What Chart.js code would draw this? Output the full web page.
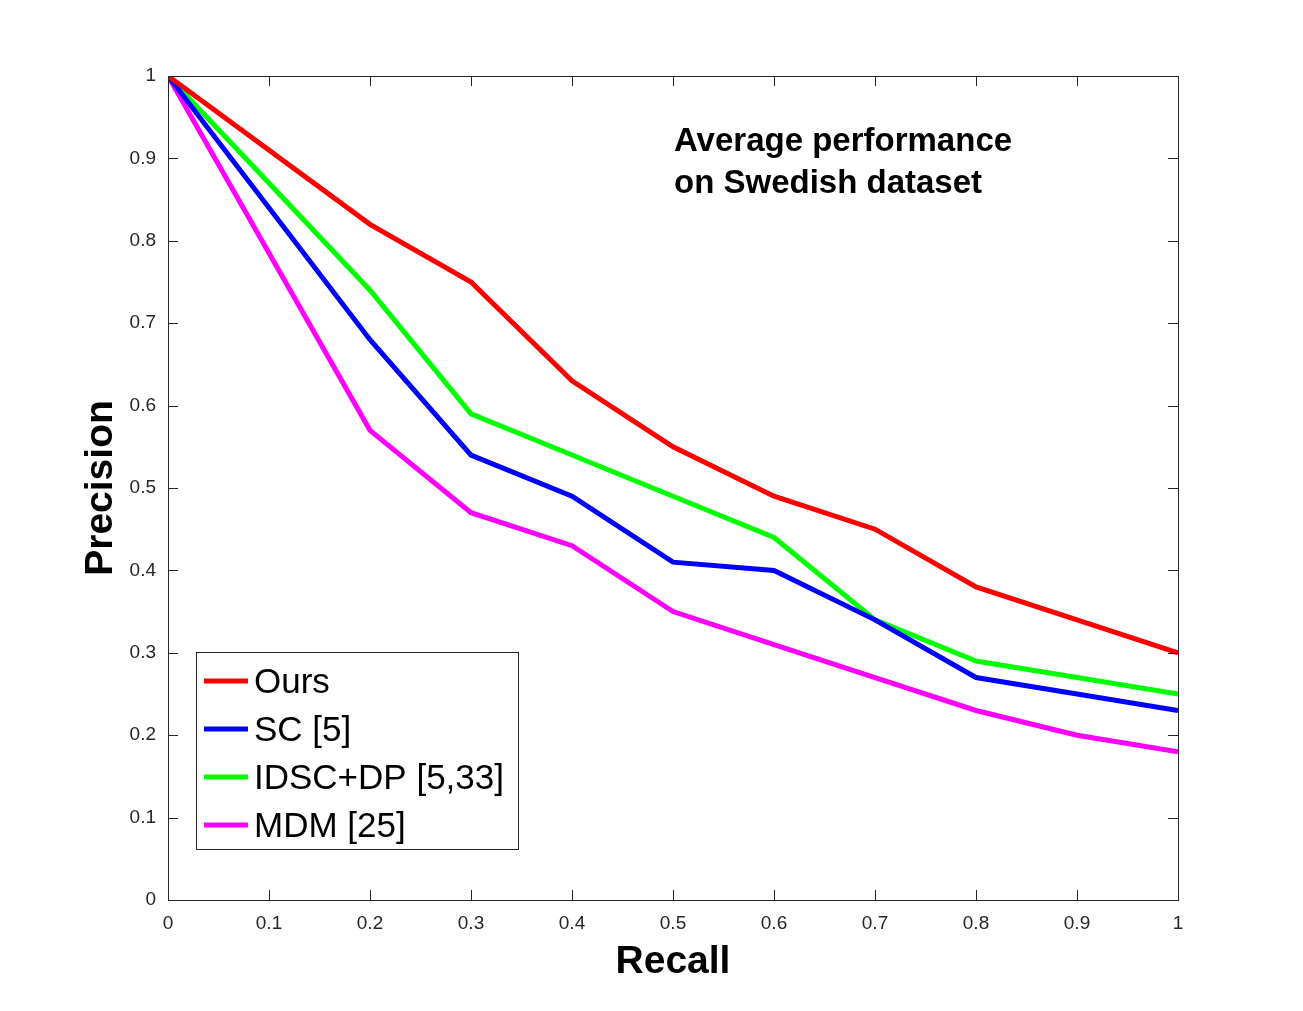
<!DOCTYPE html>
<html lang="en">
<head>
    <meta charset="UTF-8">
    <title>Average performance on Swedish dataset</title>
    <style>
        html, body { margin: 0; padding: 0; background: #fff; }
        #wrap { width: 1303px; height: 1011px; }
    </style>
</head>
<body>
<div id="wrap">
    <canvas id="chart" width="1303" height="1011"></canvas>
</div>

<script src="https://cdn.jsdelivr.net/npm/chart.js"></script>
<script>
    // values
    const recall = [0, 0.2, 0.3, 0.4, 0.5, 0.6, 0.7, 0.8, 0.9, 1];
    const ours = [1, 0.82, 0.75, 0.63, 0.55, 0.49, 0.45, 0.38, 0.34, 0.30];
    const sc = [1, 0.68, 0.54, 0.49, 0.41, 0.40, 0.34, 0.27, 0.25, 0.23];
    const idsc = [1, 0.74, 0.59, 0.54, 0.49, 0.44, 0.34, 0.29, 0.27, 0.25];
    const mdm = [1, 0.57, 0.47, 0.43, 0.35, 0.31, 0.27, 0.23, 0.20, 0.18];

    const seriesNames = ['Ours', 'SC [5]', 'IDSC+DP [5,33]', 'MDM [25]'];
    const seriesColors = ['#ff0000', '#0000ff', '#00ff00', '#ff00ff'];
    const noteLines = ['Average performance', 'on Swedish dataset'];

    const FONT = '"Liberation Sans", Arial, Helvetica, sans-serif';

    function toPoints(values) {
        return values.map((v, i) => ({x: recall[i], y: v}));
    }

    // matlab prints 0, 0.1 ... 1 (no trailing .0)
    function tickText(v) {
        return String(Math.round(v * 10) / 10);
    }

    const datasets = [ours, sc, idsc, mdm].map((vals, i) => ({
        label: seriesNames[i],
        data: toPoints(vals),
        borderColor: seriesColors[i],
        backgroundColor: seriesColors[i],
        borderWidth: 5,
        pointRadius: 0,
        tension: 0,
        fill: false
    }));

    // matlab style box with inward ticks, legend box and text note
    const matlabBox = {
        id: 'matlabBox',
        afterDraw(chart) {
            const ctx = chart.ctx;
            const a = chart.chartArea;
            const xs = chart.scales.x;
            const ys = chart.scales.y;
            const tl = 10;

            ctx.save();
            ctx.strokeStyle = '#262626';
            ctx.lineWidth = 1;
            ctx.strokeRect(a.left + 0.5, a.top + 0.5, a.right - a.left, a.bottom - a.top);

            ctx.beginPath();
            xs.ticks.forEach(t => {
                const px = Math.round(xs.getPixelForValue(t.value)) + 0.5;
                ctx.moveTo(px, a.bottom);
                ctx.lineTo(px, a.bottom - tl);
                ctx.moveTo(px, a.top);
                ctx.lineTo(px, a.top + tl);
            });
            ys.ticks.forEach(t => {
                const py = Math.round(ys.getPixelForValue(t.value)) + 0.5;
                ctx.moveTo(a.left, py);
                ctx.lineTo(a.left + tl, py);
                ctx.moveTo(a.right, py);
                ctx.lineTo(a.right - tl, py);
            });
            ctx.stroke();

            // note text
            ctx.fillStyle = '#000';
            ctx.font = 'bold 33px ' + FONT;
            ctx.textAlign = 'left';
            ctx.textBaseline = 'middle';
            noteLines.forEach((line, i) => {
                ctx.fillText(line, 674, 142 + i * 42);
            });

            // legend
            const lx = 196, ly = 652, lw = 322, lh = 197;
            ctx.fillStyle = '#fff';
            ctx.fillRect(lx, ly, lw, lh);
            ctx.strokeStyle = '#262626';
            ctx.strokeRect(lx + 0.5, ly + 0.5, lw, lh);
            ctx.font = '35px ' + FONT;
            chart.data.datasets.forEach((ds, i) => {
                const cy = ly + 29 + i * 48;
                ctx.strokeStyle = ds.borderColor;
                ctx.lineWidth = 5;
                ctx.beginPath();
                ctx.moveTo(lx + 8, cy);
                ctx.lineTo(lx + 52, cy);
                ctx.stroke();
                ctx.fillStyle = '#000';
                ctx.fillText(ds.label, lx + 58, cy + 2);
            });
            ctx.restore();
        }
    };

    const chart = new Chart(document.getElementById('chart'), {
        type: 'line',
        data: {datasets: datasets},
        options: {
            responsive: false,
            animation: false,
            layout: {padding: {top: 76, right: 125, left: 0, bottom: 0}},
            plugins: {
                legend: {display: false},
                tooltip: {enabled: false}
            },
            scales: {
                x: {
                    type: 'linear',
                    min: 0,
                    max: 1,
                    afterFit: s => { s.height = 111; },
                    grid: {display: false, drawTicks: false},
                    border: {display: false},
                    ticks: {
                        stepSize: 0.1,
                        padding: 12,
                        color: '#262626',
                        font: {family: FONT, size: 19},
                        callback: v => tickText(v)
                    },
                    title: {
                        display: true,
                        text: 'Recall',
                        color: '#000',
                        font: {family: FONT, size: 39, weight: 'bold'},
                        padding: {top: 0, bottom: 25}
                    }
                },
                y: {
                    min: 0,
                    max: 1,
                    afterFit: s => { s.width = 168; },
                    grid: {display: false, drawTicks: false},
                    border: {display: false},
                    ticks: {
                        stepSize: 0.1,
                        padding: 12,
                        color: '#262626',
                        font: {family: FONT, size: 19},
                        callback: v => tickText(v)
                    },
                    title: {
                        display: true,
                        text: 'Precision',
                        color: '#000',
                        font: {family: FONT, size: 39, weight: 'bold'},
                        padding: {top: 78, bottom: 0}
                    }
                }
            }
        },
        plugins: [matlabBox]
    });
</script>
</body>
</html>
